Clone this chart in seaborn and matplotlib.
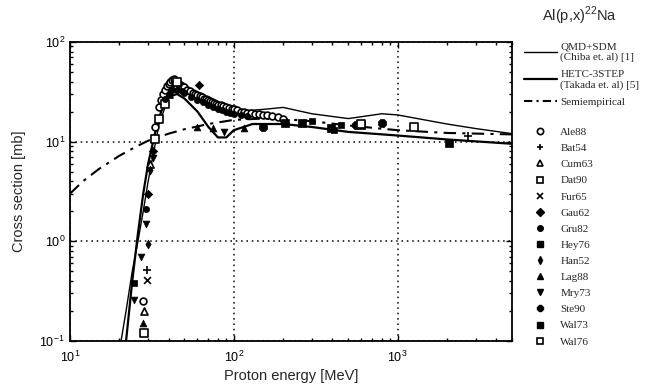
import numpy as np
import pandas as pd
import seaborn as sns
import matplotlib
matplotlib.use('Agg')
import matplotlib.pyplot as plt
from matplotlib.lines import Line2D
from matplotlib.ticker import LogLocator, NullFormatter

# --- model curves ---
qmd_e = [20.5, 22, 24, 26, 28, 30, 32, 35, 40, 45, 50, 60, 70, 80, 100, 150, 200, 300, 500, 800, 1000, 2000, 3000, 5000]
qmd_s = [0.1, 0.2, 0.5, 1.0, 2.0, 4.0, 7.0, 15, 28, 35, 33, 27, 23, 21, 20, 21, 22, 19, 17, 19, 18.5, 15, 13.5, 12]

hetc_e = [22, 24, 26, 28, 30, 33, 36, 40, 45, 50, 60, 70, 80, 90, 100, 130, 200, 300, 500, 1000, 2000, 5000]
hetc_s = [0.1, 0.4, 1.2, 3, 6, 12, 20, 28, 30, 27, 20, 14, 11, 11, 13, 15, 15, 14, 12.5, 11.5, 10.5, 9.5]

semi_e = [10, 12, 15, 20, 25, 30, 40, 50, 70, 100, 150, 200, 300, 500, 1000, 2000, 5000]
semi_s = [3.0, 4.0, 5.3, 7.2, 8.8, 10.2, 12.0, 13.3, 15.0, 16.5, 17.0, 16.8, 16.0, 14.5, 13.0, 12.2, 11.8]

# --- experimental data ---
ale88_e = [28, 33, 35, 36, 37, 38, 39, 40, 41, 42, 43, 44, 45, 46, 47, 48, 50, 52, 54, 56, 58, 60, 62, 64, 66, 68, 70,
           72, 74, 76, 78, 80, 83, 86, 90, 94, 98, 100, 105, 110, 115, 120, 128, 135, 142, 150, 160, 170, 185, 200]
ale88_s = [0.25, 14, 22, 26, 30, 33, 36, 38, 40, 41, 42, 40, 39, 38, 37, 36, 35, 33, 32, 31, 30, 29, 28.5, 28, 27, 26.5,
           26, 25.5, 25, 24.5, 24, 23.5, 23, 22.5, 22, 21.5, 21, 21, 20.5, 20, 20, 19.5, 19.5, 19, 19, 18.5, 18.5, 18, 17.5, 17]
bat54_e = [29.5, 2700]
bat54_s = [0.52, 11.5]
cum63_e = [28.5, 31, 40, 44]
cum63_s = [0.2, 6.0, 30, 35]
dat90_e = [28.5, 33, 35, 38]
dat90_s = [0.12, 10.5, 17, 24]
fur65_e = [29.5]
fur65_s = [0.41]
gau62_e = [30, 32, 61]
gau62_s = [3.0, 8.0, 37]
gru82_e = [29, 38, 40, 42, 45, 48, 50, 55, 60, 65, 70, 75, 80, 85, 90, 95, 100, 110, 120]
gru82_s = [2.1, 27, 30, 33, 33, 32, 31, 28, 26, 25, 23, 22, 21, 20.5, 20, 19.5, 19, 18.5, 18]
hey76_e = [24.5, 300, 410, 450]
hey76_s = [0.38, 16, 13, 14.5]
han52_e = [30, 31]
han52_s = [0.93, 5.2]
lag88_e = [28, 60, 75, 115]
lag88_s = [0.15, 14, 13.7, 13.7]
mry73_e = [24.5, 27, 29, 32, 87]
mry73_s = [0.26, 0.7, 1.5, 6.9, 12.5]
ste90_e = [800, 150, 560]
ste90_s = [15.4, 14, 14.7]
wal73_e = [205, 260, 390, 600, 2050]
wal73_s = [15.4, 15.4, 13.7, 14.7, 9.7]
wal76_e = [1250, 45, 600]
wal76_s = [14.0, 40, 15.0]

sns.set_style('ticks')
plt.rcParams['font.family'] = ['Liberation Sans', 'DejaVu Sans']
plt.rcParams['mathtext.fontset'] = 'custom'
plt.rcParams['mathtext.rm'] = 'Liberation Sans'

fig = plt.figure(figsize=(6.6, 3.84), dpi=100)
ax = fig.add_axes([0.106, 0.112, 0.67, 0.779])

# curves
sns.lineplot(x=qmd_e, y=qmd_s, ax=ax, color='k', linewidth=1.0, estimator=None, sort=False)
sns.lineplot(x=hetc_e, y=hetc_s, ax=ax, color='k', linewidth=1.6, estimator=None, sort=False)
sns.lineplot(x=semi_e, y=semi_s, ax=ax, color='k', linewidth=1.5, estimator=None, sort=False,
             linestyle=(0, (6, 3, 1.5, 3)))

# experimental sets: (label, energies, values, marker, filled, size)
sets = [
    ('Ale88', ale88_e, ale88_s, 'o', False, 24),
    ('Bat54', bat54_e, bat54_s, '+', None, 30),
    ('Cum63', cum63_e, cum63_s, '^', False, 26),
    ('Dat90', dat90_e, dat90_s, 's', False, 26),
    ('Fur65', fur65_e, fur65_s, 'x', None, 24),
    ('Gau62', gau62_e, gau62_s, 'D', True, 18),
    ('Gru82', gru82_e, gru82_s, 'o', True, 20),
    ('Hey76', hey76_e, hey76_s, 's', True, 24),
    ('Han52', han52_e, han52_s, 'd', True, 20),
    ('Lag88', lag88_e, lag88_s, '^', True, 24),
    ('Mry73', mry73_e, mry73_s, 'v', True, 24),
    ('Ste90', ste90_e, ste90_s, '8', True, 40),
    ('Wal73', wal73_e, wal73_s, 's', True, 28),
    ('Wal76', wal76_e, wal76_s, 's', False, 28),
]

for name, e, s, m, filled, size in sets:
    df = pd.DataFrame({'E': e, 'sigma': s})
    if filled is None:
        sns.scatterplot(data=df, x='E', y='sigma', ax=ax, marker=m, s=size,
                        color='k', linewidth=1.2, zorder=3)
    elif filled:
        sns.scatterplot(data=df, x='E', y='sigma', ax=ax, marker=m, s=size,
                        color='k', edgecolor='k', linewidth=0.5, zorder=3)
    else:
        sns.scatterplot(data=df, x='E', y='sigma', ax=ax, marker=m, s=size,
                        facecolor='white', edgecolor='k', linewidth=1.2, zorder=3)

ax.set_xscale('log')
ax.set_yscale('log')
ax.set_xlim(10, 5000)
ax.set_ylim(0.1, 100)
ax.xaxis.set_minor_locator(LogLocator(base=10, subs=np.arange(2, 10)))
ax.yaxis.set_minor_locator(LogLocator(base=10, subs=np.arange(2, 10)))
ax.xaxis.set_minor_formatter(NullFormatter())
ax.yaxis.set_minor_formatter(NullFormatter())
ax.grid(True, which='major', color='k', linestyle=(0, (1, 2.5)), linewidth=1.1)
ax.tick_params(which='both', direction='in', top=True, right=True, colors='k', labelsize=9)
ax.tick_params(axis='x', which='major', pad=6)
ax.tick_params(which='major', length=4, width=1)
ax.tick_params(which='minor', length=2.5, width=1)
for sp in ax.spines.values():
    sp.set_linewidth(1.3)
    sp.set_color('k')

ax.set_xlabel('Proton energy [MeV]', fontsize=10.5, labelpad=3)
ax.set_ylabel('Cross section [mb]', fontsize=10.5, labelpad=10)
fig.text(0.878, 0.958, 'Al(p,x)$^{22}$Na', fontsize=10.5, ha='center', va='center')

# legends: models on top, data sets below with a small gap
leg_prop = {'family': 'Liberation Serif', 'size': 8}
model_handles = [
    Line2D([], [], color='k', linewidth=1.0),
    Line2D([], [], color='k', linewidth=1.6),
    Line2D([], [], color='k', linewidth=1.5, linestyle=(0, (4, 2, 1, 2))),
]
model_labels = ['QMD+SDM\n(Chiba et. al) [1]', 'HETC-3STEP\n(Takada et. al) [5]', 'Semiempirical']

data_handles, data_labels = [], []
for name, e, s, m, filled, size in sets:
    if filled is None:
        h = Line2D([], [], linestyle='none', marker=m, color='k', markersize=4.5, markeredgewidth=1.2)
    elif filled:
        h = Line2D([], [], linestyle='none', marker=m, color='k', markersize=4)
    else:
        h = Line2D([], [], linestyle='none', marker=m, markerfacecolor='white',
                   markeredgecolor='k', markersize=4.5, markeredgewidth=1.2)
    data_handles.append(h)
    data_labels.append(name)

fig.legend(model_handles, model_labels, loc='upper left', bbox_to_anchor=(0.785, 0.905),
           frameon=False, prop=leg_prop, handlelength=3.0, handletextpad=0.3,
           labelspacing=0.68, borderpad=0)
fig.legend(data_handles, data_labels, loc='upper left', bbox_to_anchor=(0.785, 0.683),
           frameon=False, prop=leg_prop, handlelength=3.0, handletextpad=0.3,
           labelspacing=0.57, borderpad=0)

fig.savefig('out.png', dpi=100)
